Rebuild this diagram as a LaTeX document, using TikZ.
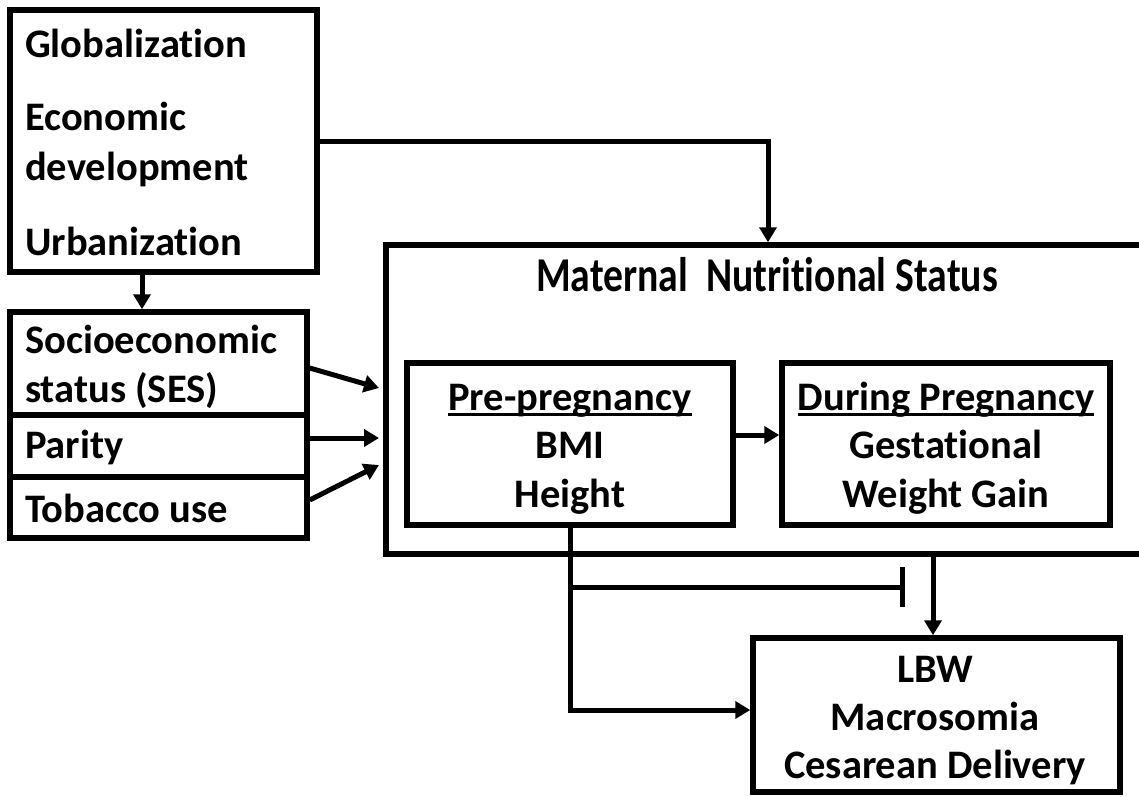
\documentclass[tikz,border=0pt]{standalone}
\usepackage{fontspec}
\setmainfont{Carlito}[Ligatures=NoCommon]
\usetikzlibrary{arrows.meta}
\begin{document}
\begin{tikzpicture}[x=1pt,y=-1pt,
  box/.style={draw, line width=5.5pt, inner sep=0pt},
  txt/.style={inner sep=0pt, font=\fontsize{40.5}{49}\selectfont\bfseries},
  conn/.style={line width=5pt},
  arr/.style={conn,-{Triangle[length=15pt,width=17pt]}},
  ulstyle/.style={line width=3pt},
]
\useasboundingbox (0,0) rectangle (1139,796);
\clip (0,0) rectangle (1139,796);

% boxes
\node[box, minimum width=307pt, minimum height=262pt] (glob) at (163.5,141) {};
\node[box, minimum width=297pt, minimum height=103pt] (ses) at (158.5,363.5) {};
\node[box, minimum width=297pt, minimum height=62pt] (par) at (158.5,446) {};
\node[box, minimum width=297pt, minimum height=61pt] (tob) at (158.5,507.5) {};
\node[box, minimum width=774pt, minimum height=309pt] (mns) at (773,399.5) {};
\node[box, minimum width=326pt, minimum height=162pt] (pre) at (570,444) {};
\node[box, minimum width=328pt, minimum height=162pt] (dur) at (946,444) {};
\node[box, minimum width=367pt, minimum height=154pt] (lbw) at (936.5,715) {};

% texts
\node[txt, anchor=base west] (g1) at (25,57) {Globalization};
\node[txt, anchor=base west] (g2) at (25,130) {Economic};
\node[txt, anchor=base west] (g3) at (25,180) {development};
\node[txt, anchor=base west] (g4) at (25,255) {Urbanization};
\node[txt, anchor=base west] (s1) at (25,353) {Socioeconomic};
\node[txt, anchor=base west] (s2) at (25,402) {status (SES)};
\node[txt, anchor=base west] (p1) at (25,458) {Parity};
\node[txt, anchor=base west] (t1) at (25,522) {Tobacco use};

\node[txt, anchor=base] (title) at (767,291) {\scalebox{0.98}[1.2]{Maternal\ \ Nutritional Status}};

\node[txt, anchor=base] (pre1) at (570,410) {Pre-pregnancy};
\node[txt, anchor=base] (pre2) at (570,458) {BMI};
\node[txt, anchor=base] (pre3) at (570,507) {Height};
\node[txt, anchor=base] (dur1) at (946,410) {During Pregnancy};
\node[txt, anchor=base] (dur2) at (946,458) {Gestational};
\node[txt, anchor=base] (dur3) at (946,507) {Weight Gain};
\node[txt, anchor=base] (lbw1) at (935,682) {LBW};
\node[txt, anchor=base] (lbw2) at (935,730) {Macrosomia};
\node[txt, anchor=base] (lbw3) at (935,778) {Cesarean Delivery};

% underlines
\draw[ulstyle] ([yshift=-4pt]pre1.base west) -- ([yshift=-4pt]pre1.base east);
\draw[ulstyle] ([yshift=-4pt]dur1.base west) -- ([yshift=-4pt]dur1.base east);

% helper coordinates
\coordinate (xa) at (142,0);
\coordinate (xb) at (768,0);
\coordinate (xc) at (905,0);
\coordinate (xd) at (933,0);
\coordinate (ta) at (379,388);
\coordinate (tb) at (379,438);
\coordinate (tc) at (379,465);
\coordinate (br) at (570,587);

% connectors
\draw[arr] (glob.south -| xa) -- (ses.north -| xa);
\draw[arr] (glob.east) -- (glob.east -| xb) -- (mns.north -| xb);
\draw[arr] ([yshift=-4.5pt]ses.east) -- (ta);
\draw[arr] ([yshift=8pt]par.east) -- (tb);
\draw[arr] ([yshift=7.5pt]tob.east) -- (tc);
\draw[arr] ([yshift=9pt]pre.east) -- ([yshift=9pt]dur.west);
\draw[arr] (pre.south) |- ([yshift=5pt]lbw.west);
\draw[conn,-{Bar[width=40pt,line width=5.5pt]}] (br) -- (br -| xc);
\draw[arr] (mns.south -| xd) -- (lbw.north -| xd);
\end{tikzpicture}
\end{document}
